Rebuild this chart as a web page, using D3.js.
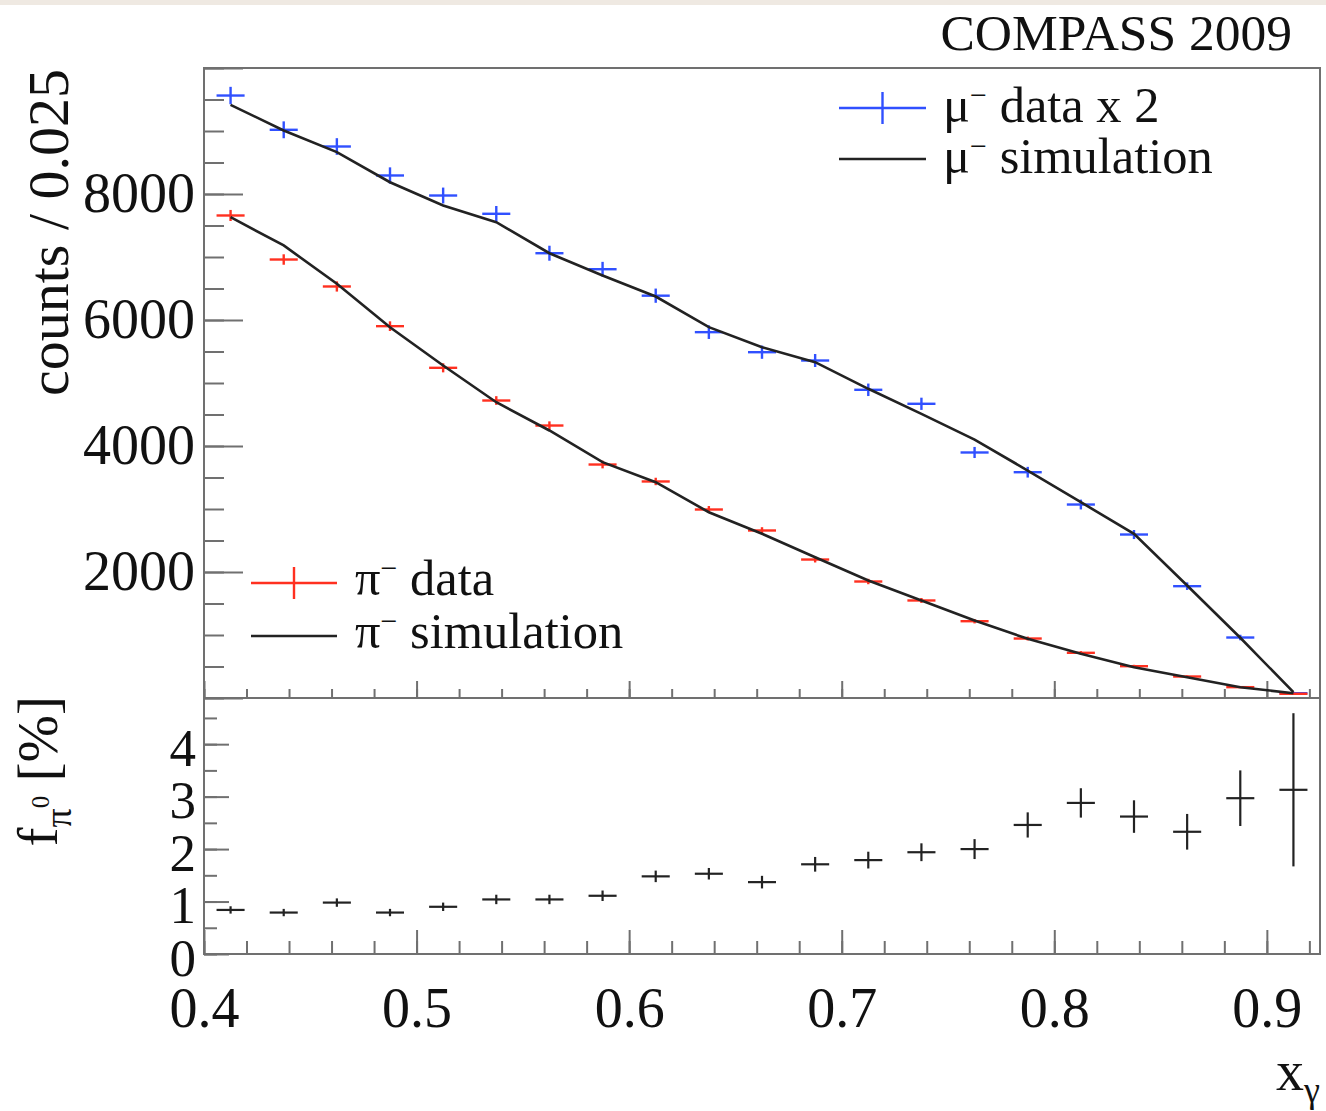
<!DOCTYPE html>
<html><head><meta charset="utf-8">
<script src="https://cdn.jsdelivr.net/npm/d3@7"></script>
<style>
html,body{margin:0;padding:0;background:#fff;}
svg{display:block;font-family:"Liberation Serif","Times New Roman",serif;}
</style></head><body>
<svg id="chart" width="1326" height="1111"></svg>
<script>
// x_gamma bin centres (bin width 0.025)
const binCenters = [0.4125,0.4375,0.4625,0.4875,0.5125,0.5375,0.5625,0.5875,0.6125,0.6375,0.6625,
                    0.6875,0.7125,0.7375,0.7625,0.7875,0.8125,0.8375,0.8625,0.8875,0.9125];
// mu- data (scaled x 2) and its statistical errors
const muData = [9563,9019,8754,8294,7976,7686,7060,6806,6386,5807,5489,5357,4892,4670,3897,3584,3071,2595,1775,960,76];
const muErr  = [138,134,132,129,126,124,119,117,113,108,105,103,99,97,88,85,78,72,60,44,12];
// mu- simulation
const muSim  = [9415,9008,8664,8187,7817,7552,7060,6706,6373,5886,5568,5330,4908,4511,4100,3611,3108,2606,1786,956,92];
// pi- data and errors
const piData = [7659,6960,6532,5902,5241,4722,4325,3706,3437,2992,2659,2198,1849,1548,1219,944,717,505,341,172,67];
const piErr  = [88,83,81,77,72,69,66,61,59,55,52,47,43,39,35,31,27,22,18,13,8];
// pi- simulation
const piSim  = [7632,7183,6575,5886,5278,4695,4246,3743,3425,2949,2606,2235,1865,1548,1230,940,702,489,330,171,76];
// pi0 background fraction [%]
const fPi0    = [0.84,0.79,0.98,0.79,0.90,1.04,1.04,1.11,1.48,1.53,1.37,1.71,1.79,1.94,2.00,2.46,2.88,2.62,2.33,2.97,3.13];
const fPi0Err = [0.07,0.07,0.08,0.07,0.08,0.09,0.09,0.10,0.11,0.11,0.12,0.14,0.16,0.17,0.19,0.24,0.28,0.31,0.34,0.53,1.46];

const countTickLabels = [2000,4000,6000,8000];
const xTickLabels = [0.4,0.5,0.6,0.7,0.8,0.9];
const fTickLabels = [0,1,2,3,4];

const svg = d3.select("#chart");
const L = 204, R = 1320, T = 68, M = 698, B = 954;
const FRAME = "#707070";
const TXT = "#111";
const LABEL_SIZE = 56;
const XBAR = 0.0066;   // half length of the horizontal bar of each cross

const x = d3.scaleLinear().domain([0.4, 0.925]).range([L, R]);
const yTop = d3.scaleLinear().domain([0, 10000]).range([M, T]);
const yBot = d3.scaleLinear().domain([0, 4.88]).range([B, M]);

// top strip of the page
svg.append("rect").attr("x",0).attr("y",0).attr("width",1326).attr("height",5).attr("fill","#efe9e2");

function styleAxis(g, fontSize){
  g.select(".domain").remove();
  g.selectAll(".tick line").attr("stroke", FRAME).attr("stroke-width", 2);
  g.selectAll(".tick text").attr("font-size", fontSize).attr("fill", TXT)
    .attr("font-family", '"Liberation Serif","Times New Roman",serif');
}

// ---------- top panel axes ----------
const minorX = d3.range(0, 27).map(i => +(0.4 + i*0.02).toFixed(3)).filter(v => v <= 0.925);
const majorX = xTickLabels;

svg.append("g").attr("transform",`translate(0,${M})`)
  .call(d3.axisBottom(x).tickValues(minorX).tickSize(-9).tickFormat(""))
  .call(g => styleAxis(g, 0));
svg.append("g").attr("transform",`translate(0,${M})`)
  .call(d3.axisBottom(x).tickValues(majorX).tickSize(-17).tickFormat(""))
  .call(g => styleAxis(g, 0));

svg.append("g").attr("transform",`translate(${L},0)`)
  .call(d3.axisLeft(yTop).tickValues(d3.range(0, 10001, 500)).tickSize(-20).tickFormat(""))
  .call(g => styleAxis(g, 0));
svg.append("g").attr("transform",`translate(${L},0)`)
  .call(d3.axisLeft(yTop).tickValues(d3.range(0, 10001, 2000)).tickSize(-39).tickPadding(9)
        .tickFormat(d => countTickLabels.includes(d) ? String(d) : ""))
  .call(g => styleAxis(g, LABEL_SIZE));

// ---------- bottom panel axes ----------
svg.append("g").attr("transform",`translate(0,${B})`)
  .call(d3.axisBottom(x).tickValues(minorX).tickSize(-13).tickFormat(""))
  .call(g => styleAxis(g, 0));
svg.append("g").attr("transform",`translate(0,${B})`)
  .call(d3.axisBottom(x).tickValues(majorX).tickSize(-24).tickPadding(33).tickFormat(d3.format(".1f")))
  .call(g => styleAxis(g, LABEL_SIZE));

svg.append("g").attr("transform",`translate(${L},0)`)
  .call(d3.axisLeft(yBot).tickValues(d3.range(0, 4.6, 0.5)).tickSize(-13).tickFormat(""))
  .call(g => styleAxis(g, 0));
svg.append("g").attr("transform",`translate(${L},0)`)
  .call(d3.axisLeft(yBot).tickValues(fTickLabels).tickSize(-25).tickPadding(8).tickFormat(d3.format("d")))
  .call(g => styleAxis(g, 53))
  .call(g => g.selectAll(".tick text").attr("dy","0.4em"));

// frames
svg.append("rect").attr("x",L).attr("y",T).attr("width",R-L).attr("height",M-T)
  .attr("fill","none").attr("stroke",FRAME).attr("stroke-width",2);
svg.append("rect").attr("x",L).attr("y",M).attr("width",R-L).attr("height",B-M)
  .attr("fill","none").attr("stroke",FRAME).attr("stroke-width",2);

// ---------- marks ----------
const line = d3.line().x(d => x(d[0])).y(d => yTop(d[1]));

function crosses(g, vals, errs, yScale, color, width){
  const sel = g.selectAll(null).data(binCenters.map((c,i)=>({c, v: vals[i], e: errs[i]}))).enter();
  sel.append("line")
    .attr("x1", d => x(d.c - XBAR)).attr("x2", d => x(d.c + XBAR))
    .attr("y1", d => yScale(d.v)).attr("y2", d => yScale(d.v))
    .attr("stroke", color).attr("stroke-width", width);
  sel.append("line")
    .attr("x1", d => x(d.c)).attr("x2", d => x(d.c))
    .attr("y1", d => yScale(d.v - d.e)).attr("y2", d => yScale(d.v + d.e))
    .attr("stroke", color).attr("stroke-width", width);
}

const BLUE = "#3050ff", RED = "#ff3020", SIM = "#222";
const gTop = svg.append("g");
crosses(gTop, muData, muErr, yTop, BLUE, 2.4);
crosses(gTop, piData, piErr, yTop, RED, 2.4);
gTop.append("path").datum(binCenters.map((c,i)=>[c, muSim[i]])).attr("d", line)
  .attr("fill","none").attr("stroke",SIM).attr("stroke-width",2.6);
gTop.append("path").datum(binCenters.map((c,i)=>[c, piSim[i]])).attr("d", line)
  .attr("fill","none").attr("stroke",SIM).attr("stroke-width",2.6);

crosses(svg.append("g"), fPi0, fPi0Err, yBot, "#222", 2.2);

// ---------- legends ----------
function legendText(xp, yp, sym, rest){
  const t = svg.append("text").attr("x", xp).attr("y", yp).attr("font-size", 50.5).attr("fill", TXT);
  t.append("tspan").text(sym);
  t.append("tspan").attr("font-size", 30).attr("dy", -17).text("\u2212");
  t.append("tspan").attr("dy", 17).text(" " + rest);
}
function legendCross(x1, x2, yp, color){
  svg.append("line").attr("x1",x1).attr("x2",x2).attr("y1",yp).attr("y2",yp).attr("stroke",color).attr("stroke-width",2.4);
  svg.append("line").attr("x1",(x1+x2)/2).attr("x2",(x1+x2)/2).attr("y1",yp-16).attr("y2",yp+16).attr("stroke",color).attr("stroke-width",2.4);
}
function legendLine(x1, x2, yp){
  svg.append("line").attr("x1",x1).attr("x2",x2).attr("y1",yp).attr("y2",yp).attr("stroke",SIM).attr("stroke-width",2.6);
}
legendCross(839, 926, 108, BLUE);
legendText(943, 122, "\u03BC", "data x 2");
legendLine(839, 926, 159);
legendText(943, 173, "\u03BC", "simulation");

legendCross(251, 337, 583, RED);
legendText(355, 595, "\u03C0", "data");
legendLine(251, 337, 636);
legendText(355, 648, "\u03C0", "simulation");

// ---------- titles ----------
svg.append("text").attr("x", 1292).attr("y", 50).attr("text-anchor","end")
  .attr("font-size", 51.5).attr("fill", TXT).text("COMPASS 2009");

svg.append("text").attr("transform","translate(68,69) rotate(-90)").attr("text-anchor","end")
  .attr("font-size", 58).attr("fill", TXT).text("counts / 0.025");

const fy = svg.append("text").attr("transform","translate(57,696) rotate(-90)").attr("text-anchor","end")
  .attr("font-size", 57).attr("fill", TXT);
fy.append("tspan").text("f");
fy.append("tspan").attr("font-size", 38).attr("dy", 14).text("\u03C0");
fy.append("tspan").attr("font-size", 25).attr("dy", -22).text("0");
fy.append("tspan").attr("dy", 8).text(" [%]");

const xt = svg.append("text").attr("x", 1320).attr("y", 1090).attr("text-anchor","end")
  .attr("font-size", 56).attr("fill", TXT);
xt.append("tspan").text("x");
xt.append("tspan").attr("font-size", 36).attr("dy", 12).text("\u03B3");
</script>
</body></html>
